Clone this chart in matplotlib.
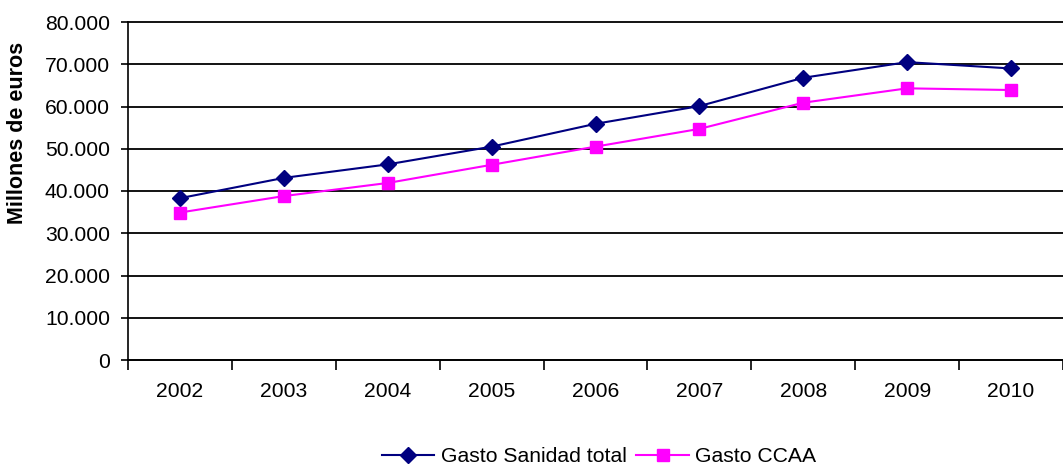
import matplotlib.pyplot as plt
from matplotlib.ticker import FuncFormatter, MultipleLocator

plt.rcParams['font.family'] = ['Liberation Sans', 'DejaVu Sans']

years = ['2002', '2003', '2004', '2005', '2006', '2007', '2008', '2009', '2010']
gasto_total = [38300, 43100, 46300, 50500, 55900, 60100, 66800, 70500, 69000]
gasto_ccaa = [34900, 38800, 41900, 46200, 50500, 54700, 60900, 64300, 63900]

fig = plt.figure(figsize=(10.63, 4.66), dpi=100)
ax = fig.add_axes([128 / 1063, 106 / 466, 935 / 1063, 338 / 466])

x = range(len(years))
ax.plot(x, gasto_total, color='#000080', marker='D', markersize=8, linewidth=1.5,
        label='Gasto Sanidad total', zorder=3, clip_on=False)
ax.plot(x, gasto_ccaa, color='#FF00FF', marker='s', markersize=8, linewidth=1.5,
        label='Gasto CCAA', zorder=3, clip_on=False)

ax.set_xlim(-0.5, len(years) - 0.5)
ax.set_ylim(0, 80000)
ax.yaxis.set_major_locator(MultipleLocator(10000))
ax.yaxis.set_major_formatter(FuncFormatter(lambda v, p: '0' if v == 0 else f'{int(v):,}'.replace(',', '.')))
ax.grid(axis='y', color='black', linewidth=1.3)
ax.set_axisbelow(True)
for gl in ax.get_ygridlines():
    gl.set_clip_on(False)

ax.set_xticks(list(x))
ax.set_xticklabels(years)
ax.set_xticks([i - 0.5 for i in range(len(years) + 1)], minor=True)
ax.tick_params(axis='x', which='major', length=0, pad=16, labelsize=15.2)
ax.tick_params(axis='x', which='minor', length=7, width=1.2, direction='out')
ax.tick_params(axis='y', length=5, width=1.2, pad=8, labelsize=15.2)

for s in ['top', 'right']:
    ax.spines[s].set_visible(False)
for s in ['left', 'bottom']:
    ax.spines[s].set_linewidth(1.2)

fig.text(18 / 1063, 1 - 133 / 466, 'Millones de euros', rotation=90, fontsize=15.5,
         fontweight='bold', ha='center', va='center')

fig.legend(loc='center', bbox_to_anchor=(599 / 1063, 1 - 457 / 466), ncol=2, frameon=False,
           fontsize=15.2, handlelength=2.5, columnspacing=0.45, handletextpad=0.3)

fig.savefig('out.png', dpi=100)
